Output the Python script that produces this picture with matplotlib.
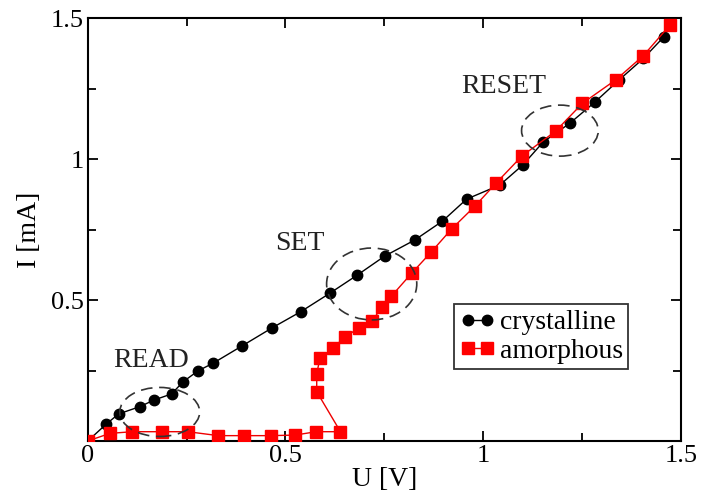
import numpy as np
import matplotlib
matplotlib.use("Agg")
import matplotlib.pyplot as plt
from matplotlib.patches import Ellipse

plt.rcParams['font.family'] = ['Liberation Serif', 'DejaVu Serif']

# crystalline I-V curve
u_cryst = [0.0, 0.046, 0.078, 0.132, 0.167, 0.212, 0.241, 0.279, 0.317, 0.391, 0.467,
           0.539, 0.612, 0.682, 0.751, 0.827, 0.897, 0.958, 1.042, 1.100, 1.152,
           1.219, 1.283, 1.343, 1.405, 1.457]
i_cryst = [0.0, 0.059, 0.096, 0.122, 0.145, 0.167, 0.210, 0.249, 0.276, 0.338, 0.402,
           0.459, 0.524, 0.589, 0.656, 0.713, 0.780, 0.858, 0.908, 0.979, 1.061,
           1.127, 1.203, 1.280, 1.357, 1.434]

# amorphous I-V curve (in measurement order, snaps back at threshold)
u_amor = [0.0, 0.056, 0.113, 0.188, 0.253, 0.330, 0.396, 0.463, 0.524, 0.578, 0.639,
          0.579, 0.579, 0.587, 0.621, 0.650, 0.686, 0.720, 0.743, 0.768, 0.819,
          0.869, 0.920, 0.979, 1.032, 1.098, 1.183, 1.251, 1.336, 1.405, 1.472]
i_amor = [0.0, 0.027, 0.033, 0.033, 0.033, 0.019, 0.019, 0.019, 0.021, 0.033, 0.033,
          0.175, 0.238, 0.293, 0.329, 0.370, 0.400, 0.427, 0.474, 0.514, 0.595,
          0.671, 0.752, 0.833, 0.914, 1.011, 1.099, 1.198, 1.282, 1.367, 1.475]

# annotated regions: label, text pos, ellipse centre, width, height
regions = ["READ", "SET", "RESET"]
text_pos = [(0.161, 0.287), (0.536, 0.702), (1.051, 1.256)]
ell_center = [(0.182, 0.103), (0.718, 0.557), (1.194, 1.101)]
ell_w = [0.202, 0.228, 0.194]
ell_h = [0.174, 0.255, 0.181]

fig = plt.figure(figsize=(7.02, 5.04), dpi=100)
ax = fig.add_axes([0.125, 0.125, 0.845, 0.839])

ax.plot(u_cryst, i_cryst, '-o', color='black', lw=1, ms=7.5, label='crystalline', zorder=3)
ax.plot(u_amor, i_amor, '-s', color='#ee0000', mfc='red', mec='red', lw=1, ms=8.5,
        label='amorphous', zorder=4)

for name, tp, c, w, h in zip(regions, text_pos, ell_center, ell_w, ell_h):
    ax.text(tp[0], tp[1], name, fontsize=20, ha='center', va='center', color='#222222')
    ax.add_patch(Ellipse(c, w, h, fill=False, ls=(0, (7, 4)), lw=1.2, ec='#333333', zorder=5))

ax.set_xlim(0, 1.5)
ax.set_ylim(0, 1.5)
ax.set_xticks([0, 0.5, 1, 1.5])
ax.set_xticklabels(['0', '0.5', '1', '1.5'])
ax.set_yticks([0, 0.5, 1, 1.5])
ax.set_yticklabels(['', '0.5', '1', '1.5'])
ax.set_xticks([0.25, 0.75, 1.25], minor=True)
ax.set_yticks([0.25, 0.75, 1.25], minor=True)
ax.tick_params(which='both', direction='in', top=True, right=True, labelsize=19, width=1.3)
ax.tick_params(which='major', length=7, pad=3)
ax.tick_params(which='minor', length=6)
for s in ax.spines.values():
    s.set_linewidth(1.5)

ax.set_xlabel('U [V]', fontsize=20, labelpad=0)
ax.set_ylabel('I [mA]', fontsize=20, labelpad=6)

leg = ax.legend(loc='lower left', bbox_to_anchor=(0.617, 0.17), fontsize=20, numpoints=2,
                frameon=True, fancybox=False, edgecolor='black', handlelength=1.3,
                handletextpad=0.15, borderpad=0.2, labelspacing=0.1, borderaxespad=0)
leg.get_frame().set_linewidth(1.3)

fig.savefig('out.png', dpi=100)
